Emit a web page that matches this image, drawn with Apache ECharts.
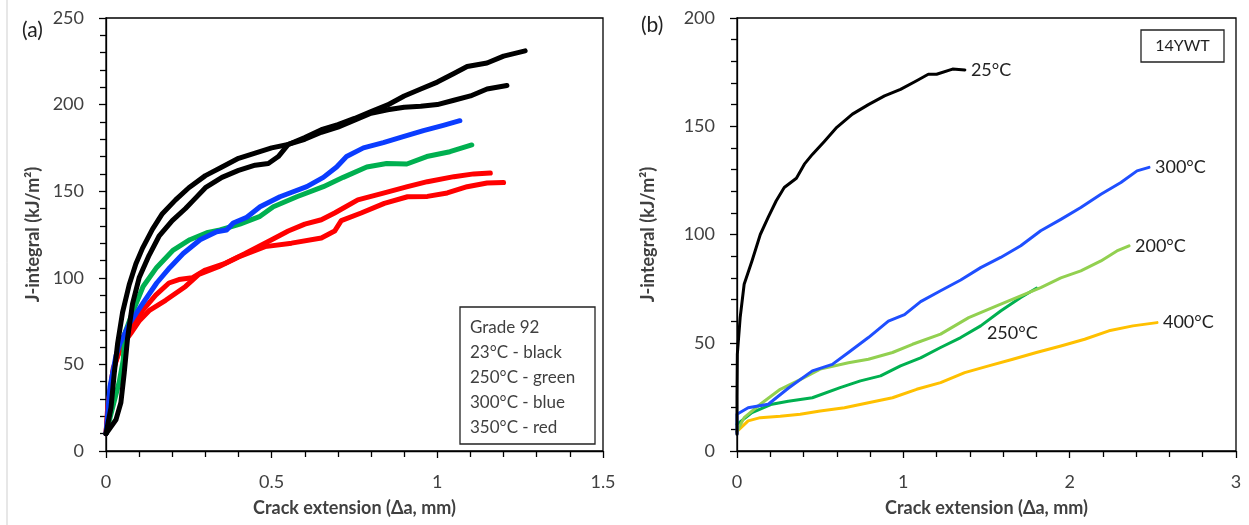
<!DOCTYPE html>
<html><head><meta charset="utf-8">
<script src="https://cdn.jsdelivr.net/npm/echarts@6/dist/echarts.min.js"></script>
<style>html,body{margin:0;padding:0;background:#fff}#c{width:1249px;height:525px}</style>
</head><body><div id="c"></div>
<script>
// Panel (a) Grade 92 — [crack extension mm, J kJ/m2]
const black23A = [[0,10],[0.03,18],[0.045,28],[0.055,45],[0.065,65],[0.08,85],[0.1,100],[0.13,113],[0.16,124],[0.2,133],[0.24,140],[0.265,145],[0.3,152],[0.35,158],[0.4,162],[0.45,165],[0.49,166],[0.52,170],[0.55,177],[0.6,181],[0.65,185.5],[0.7,188.5],[0.75,192],[0.8,196],[0.85,199.8],[0.9,205],[0.95,209],[1.0,213],[1.05,218],[1.09,222],[1.15,224],[1.2,228],[1.265,231]];
const black23B = [[0,10],[0.015,25],[0.025,45],[0.035,62],[0.05,80],[0.07,96],[0.09,108],[0.11,117],[0.14,128],[0.17,137],[0.21,145],[0.25,152],[0.3,159],[0.35,164],[0.4,169],[0.45,172],[0.5,175],[0.55,177],[0.6,180],[0.65,184],[0.7,187],[0.75,191],[0.8,195],[0.85,197],[0.9,198.5],[0.95,199],[1.0,200],[1.05,202.5],[1.1,205],[1.15,209],[1.21,211]];
const green250 = [[0,10],[0.02,25],[0.04,40],[0.052,52.5],[0.057,68],[0.082,81],[0.112,95],[0.153,106],[0.203,116],[0.253,122],[0.304,126],[0.344,127.6],[0.404,131],[0.465,135.5],[0.505,141],[0.576,146.8],[0.656,152.6],[0.716,158],[0.787,164],[0.847,166],[0.908,165.7],[0.968,170],[1.038,172.8],[1.104,176.7]];
const blue300 = [[0,10],[0.012,37],[0.03,55],[0.042,62],[0.072,74],[0.112,85.5],[0.153,97],[0.193,106],[0.233,114],[0.284,122],[0.334,126.6],[0.364,127.6],[0.384,131.6],[0.425,135],[0.465,141],[0.525,146.8],[0.606,152.6],[0.656,158],[0.696,164],[0.726,170],[0.777,175],[0.837,178],[0.897,181.5],[0.958,185],[1.018,188],[1.068,190.7]];
const red350A = [[0,10],[0.005,25],[0.02,45],[0.04,58],[0.07,68],[0.09,75],[0.11,81],[0.15,90],[0.19,97],[0.22,99],[0.26,100],[0.3,104.5],[0.36,108.4],[0.42,114],[0.5,122],[0.55,127],[0.6,131],[0.65,133.5],[0.69,137.4],[0.76,145],[0.84,149],[0.91,152.6],[0.97,155.5],[1.05,158.4],[1.11,160],[1.16,160.5]];
const red350B = [[0,10],[0.008,28],[0.022,48],[0.045,60],[0.075,68],[0.1,75],[0.13,81],[0.18,87],[0.24,95],[0.28,102],[0.34,106.4],[0.4,112],[0.48,118],[0.56,120],[0.65,123],[0.69,127],[0.71,133],[0.77,137.4],[0.84,143],[0.91,146.8],[0.97,147],[1.03,149],[1.09,152.6],[1.15,154.7],[1.2,155]];
const legendLinesA = ['Grade 92','23°C - black','250°C - green','300°C - blue','350°C - red'];

// Panel (b) 14YWT
const ywt25 = [[0,7.7],[0,25],[0.002,44.7],[0.019,61.6],[0.043,77],[0.09,87.8],[0.14,100],[0.188,108],[0.236,115.6],[0.284,121.7],[0.357,126],[0.405,132.5],[0.453,137],[0.525,143],[0.6,149.5],[0.694,155.6],[0.79,160],[0.887,164],[0.983,167],[1.08,171],[1.15,174],[1.2,174],[1.296,176.4],[1.37,176]];
const ywt300 = [[0,8],[0,17],[0.067,20],[0.188,21.6],[0.308,29],[0.453,37],[0.573,40],[0.67,45.5],[0.79,52.4],[0.91,60],[1.007,63],[1.104,69],[1.224,74],[1.345,79],[1.465,84.7],[1.585,89.4],[1.706,94.8],[1.826,101.7],[1.947,107],[2.067,112.5],[2.188,118.6],[2.308,124],[2.405,129.4],[2.477,131]];
const ywt200 = [[0,9],[0.043,15.4],[0.14,21.6],[0.26,28.5],[0.38,33],[0.5,37.8],[0.67,40.8],[0.79,42.4],[0.935,45.5],[1.055,49.3],[1.224,54],[1.393,61.6],[1.561,67],[1.706,71.6],[1.826,75.5],[1.947,80],[2.067,83.2],[2.188,87.8],[2.284,92.4],[2.357,94.8]];
const ywt250 = [[0,12.3],[0.09,17.7],[0.21,21.6],[0.308,23],[0.453,24.6],[0.62,29.3],[0.742,32.4],[0.863,34.7],[0.983,39.3],[1.104,43],[1.224,47.8],[1.345,52.4],[1.465,57.8],[1.585,64.7],[1.706,70.9],[1.8,75.2]];
const ywt400 = [[0,9],[0.067,13.9],[0.14,15.4],[0.26,16],[0.38,17],[0.5,18.5],[0.646,20],[0.79,22.3],[0.935,24.6],[1.08,28.5],[1.224,31.6],[1.369,36.2],[1.513,39.3],[1.658,42.4],[1.8,45.5],[1.947,48.5],[2.09,51.6],[2.236,55.5],[2.38,57.8],[2.525,59.3]];
const labels = ['25°C','300°C','200°C','250°C','400°C'];
const label250Pos = [1.655, 54.5];

const FONT = 'Lato, "Open Sans", sans-serif';
const TXT = '#404040';
const chart = echarts.init(document.getElementById('c'), null, {renderer:'canvas'});

function xAxisCfg(grid, max, interval){
  return {type:'value', gridIndex:grid, min:0, max:max, interval:interval,
    name:'Crack extension (\u0394a, mm)', nameLocation:'middle', nameGap:48,
    nameTextStyle:{fontFamily:FONT, fontSize:18, fontWeight:'bold', color:TXT},
    axisLine:{show:true, lineStyle:{color:'#000', width:1.3}},
    axisTick:{show:true, length:7, lineStyle:{color:'#000', width:1.3}},
    minorTick:{show:true, splitNumber:5, length:6, lineStyle:{color:'#000', width:1.3}},
    splitLine:{show:false},
    axisLabel:{margin:22, fontFamily:FONT, fontSize:18, color:TXT}};
}
function yAxisCfg(grid, max, gap){
  return {type:'value', gridIndex:grid, min:0, max:max, interval:50,
    name:'J-integral (kJ/m\u00B2)', nameLocation:'middle', nameGap:gap,
    nameTextStyle:{fontFamily:FONT, fontSize:18, fontWeight:'bold', color:TXT},
    axisLine:{show:true, lineStyle:{color:'#000', width:1.3}},
    axisTick:{show:true, length:7, lineStyle:{color:'#000', width:1.3}},
    minorTick:{show:true, splitNumber:5, length:6, lineStyle:{color:'#000', width:1.3}},
    splitLine:{show:false},
    axisLabel:{margin:22, fontFamily:FONT, fontSize:18, color:TXT}};
}
function lineA(data, color){
  return {type:'line', xAxisIndex:0, yAxisIndex:0, data:data, showSymbol:false, symbol:'none',
    lineStyle:{color:color, width:5, join:'round', cap:'round'}, silent:true, z:3};
}
function lineB(data, color, label, extra){
  const s = {type:'line', xAxisIndex:1, yAxisIndex:1, data:data, showSymbol:false, symbol:'none',
    lineStyle:{color:color, width:3, join:'round', cap:'round'}, silent:true, z:3};
  if(label){
    s.endLabel = {show:true, formatter:label, fontFamily:FONT, fontSize:18, color:'#222', distance:6};
  }
  return Object.assign(s, extra||{});
}

const option = {
  animation:false,
  backgroundColor:'#fff',
  grid:[
    {left:106, top:18, width:497, height:433, show:true, borderColor:'#000', borderWidth:1.3, backgroundColor:'transparent'},
    {left:737, top:18, width:499, height:433, show:true, borderColor:'#000', borderWidth:1.3, backgroundColor:'transparent'}
  ],
  xAxis:[xAxisCfg(0,1.5,0.5), xAxisCfg(1,3,1)],
  yAxis:[yAxisCfg(0,250,64), yAxisCfg(1,200,80)],
  series:[
    lineA(red350B,'#ff0000'),
    lineA(red350A,'#ff0000'),
    lineA(green250,'#00b050'),
    lineA(blue300,'#0a3cff'),
    lineA(black23B,'#000000'),
    lineA(black23A,'#000000'),
    lineB(ywt400,'#ffc000',labels[4]),
    lineB(ywt250,'#00b050',null,{markPoint:{symbol:'rect', symbolSize:1, itemStyle:{color:'transparent'},
      label:{show:true, formatter:labels[3], fontFamily:FONT, fontSize:18, color:'#222', position:'inside'},
      data:[{coord:label250Pos}]}}),
    lineB(ywt200,'#92d050',labels[2]),
    lineB(ywt300,'#1f4fff',labels[1]),
    lineB(ywt25,'#000000',labels[0])
  ],
  graphic:[
    {type:'line', shape:{x1:7, y1:0, x2:7, y2:525}, style:{stroke:'#cfcfcf', lineWidth:1}},
    {type:'text', left:22, top:20, style:{text:'(a)', font:'21px '+FONT, fill:'#222'}},
    {type:'text', left:641, top:15, style:{text:'(b)', font:'21px '+FONT, fill:'#222'}},
    {type:'rect', shape:{x:460, y:307, width:135, height:137}, style:{fill:'#fff', stroke:'#222', lineWidth:1.3}, z:10},
    {type:'text', left:470, top:315, z:11, style:{text:legendLinesA.join('\n'), font:'17px '+FONT, fill:TXT, lineHeight:25}},
    {type:'rect', shape:{x:1141, y:30, width:83, height:32}, style:{fill:'#fff', stroke:'#222', lineWidth:1.3}, z:10},
    {type:'text', x:1182.5, y:46, z:11, style:{text:'14YWT', font:'16px '+FONT, fill:'#222', align:'center', verticalAlign:'middle'}}
  ]
};
chart.setOption(option);
</script></body></html>
